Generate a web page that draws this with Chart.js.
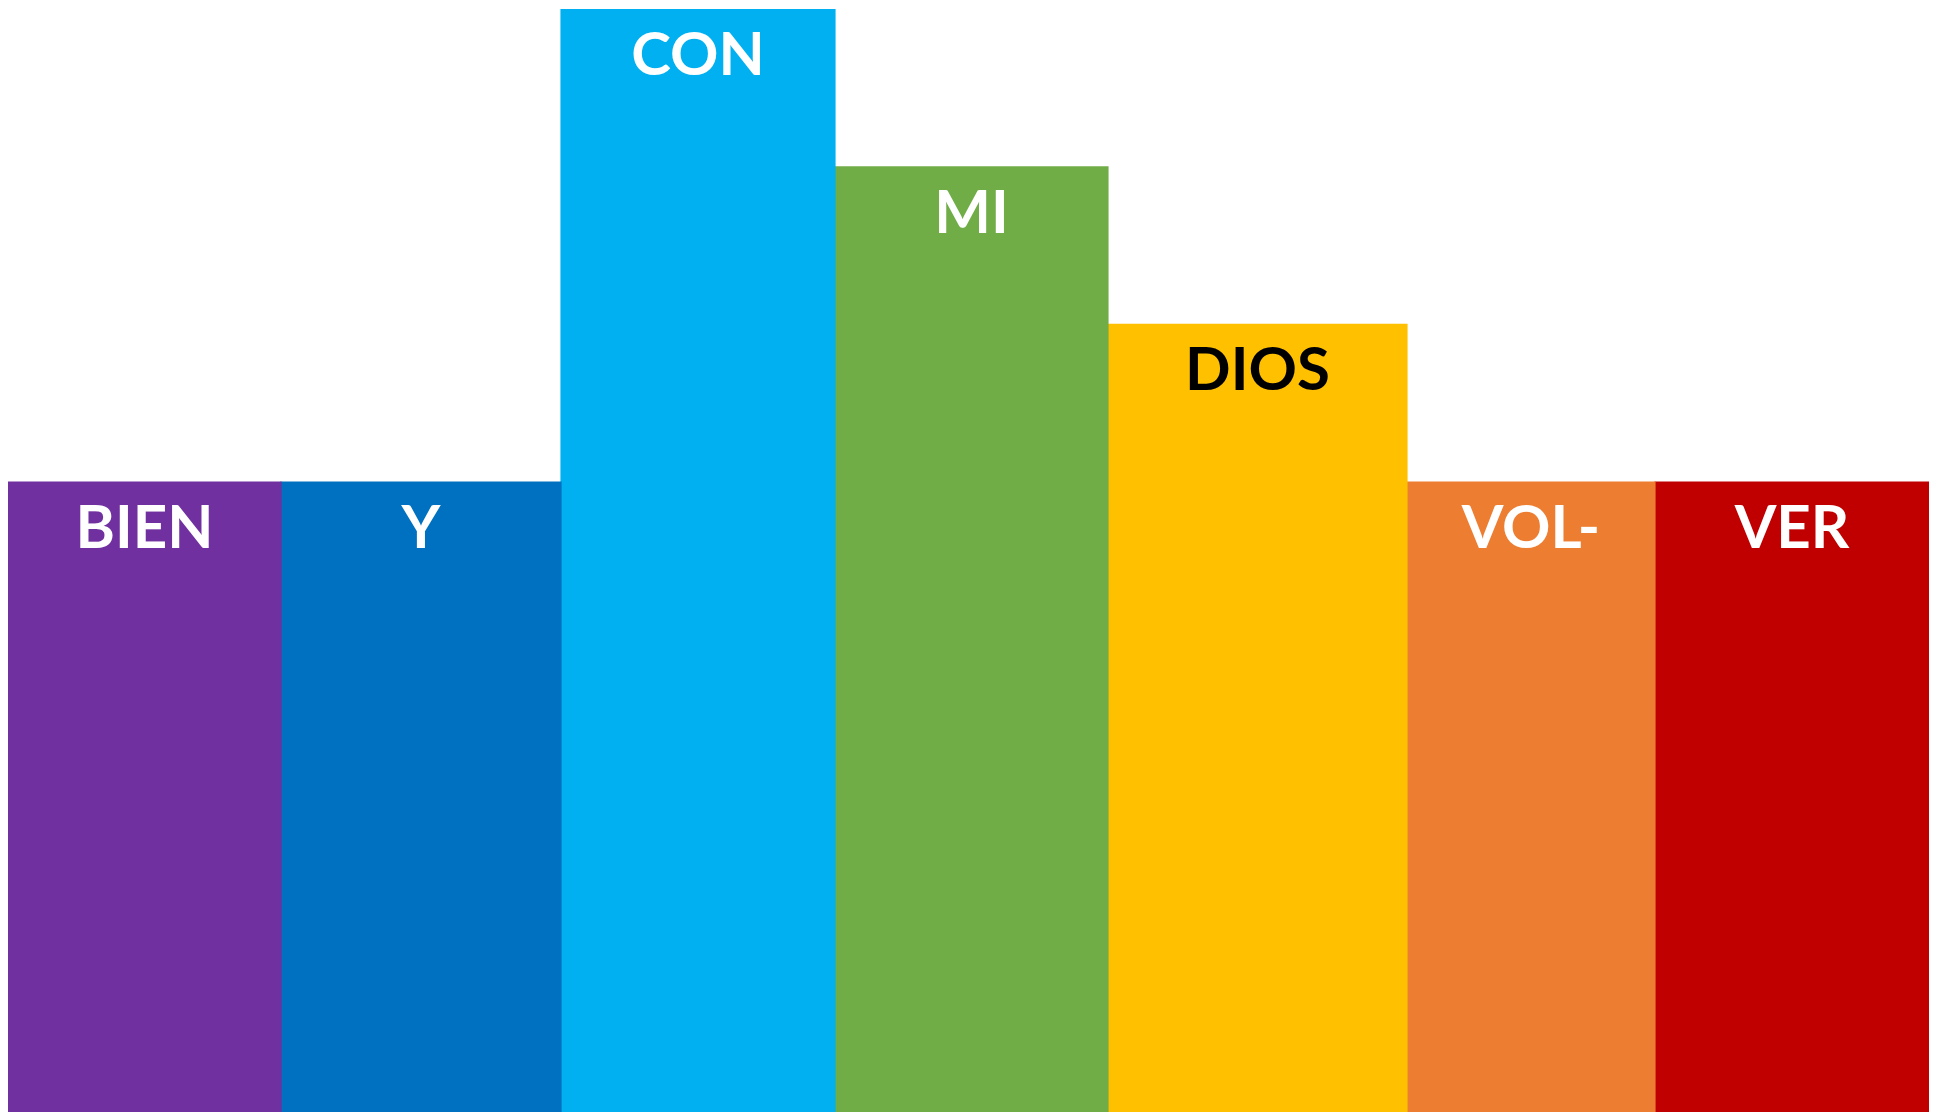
<!DOCTYPE html>
<html>
<head>
<meta charset="utf-8">
<script src="https://cdn.jsdelivr.net/npm/chart.js@4/dist/chart.umd.min.js"></script>
<style>
  html, body { margin: 0; padding: 0; background: #fff; }
  #wrap { width: 1940px; height: 1112px; position: relative; }
</style>
</head>
<body>
<div id="wrap"><canvas id="myChart"></canvas></div>
<script>
// song syllables and their step heights
const words = ['BIEN', 'Y', 'CON', 'MI', 'DIOS', 'VOL-', 'VER'];
const values = [4, 4, 7, 6, 5, 4, 4];
const colors = ['#7030A0', '#0070C0', '#00B0F0', '#70AD47', '#FFC000', '#ED7D31', '#C00000'];
const textColors = ['#fff', '#fff', '#fff', '#fff', '#000', '#fff', '#fff'];
// relative column widths (the columns are not all equally wide)
const columnWidths = [273, 280, 274, 273, 299, 248, 274];

var pad = { top: 9, left: 8, right: 11, bottom: 0 };
var totalWidth = columnWidths.reduce(function(a, b) { return a + b; }, 0);
var areaWidth = 1940 - pad.left - pad.right;
var pxPerUnit = areaWidth / totalWidth;

var datasets = [];
var start = 0;
words.forEach(function(w, i) {
    datasets.push({
        label: w,
        data: [{ x: start + columnWidths[i] / 2, y: values[i] }],
        backgroundColor: colors[i],
        borderWidth: 0,
        barThickness: columnWidths[i] * pxPerUnit + 0.5
    });
    start += columnWidths[i];
});

var wordLabels = {
    id: 'wordLabels',
    afterDatasetsDraw: function(chart) {
        var ctx = chart.ctx;
        ctx.save();
        ctx.font = 'bold 60px Lato';
        ctx.textAlign = 'center';
        ctx.textBaseline = 'alphabetic';
        chart.data.datasets.forEach(function(ds, i) {
            var bar = chart.getDatasetMeta(i).data[0];
            ctx.fillStyle = textColors[i];
            ctx.fillText(words[i], bar.x, bar.y + 66);
        });
        ctx.restore();
    }
};

var ctx = document.getElementById('myChart').getContext('2d');
var chart = new Chart(ctx, {
    type: 'bar',
    data: { datasets: datasets },
    options: {
        responsive: true,
        maintainAspectRatio: false,
        animation: false,
        layout: { padding: pad },
        plugins: {
            legend: { display: false },
            tooltip: { enabled: false }
        },
        scales: {
            x: { type: 'linear', min: 0, max: totalWidth, offset: false, stacked: true, display: false },
            y: { min: 0, max: 7, stacked: true, display: false }
        }
    },
    plugins: [wordLabels]
});
</script>
</body>
</html>
